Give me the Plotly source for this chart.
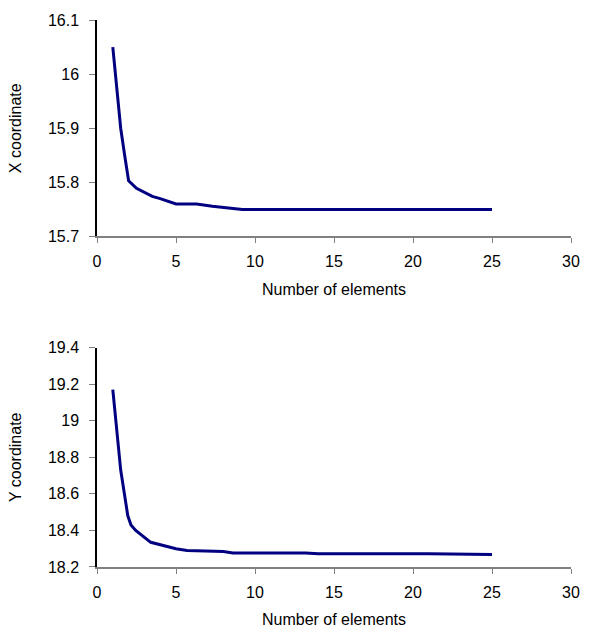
import plotly.graph_objects as go

# Data
x_top = [1, 1.5, 1.75, 2, 2.5, 3.5, 4, 5, 6.3, 7.3, 9.2, 10, 15, 20, 25]
y_top = [16.05, 15.90, 15.85, 15.803, 15.789, 15.774, 15.77, 15.76, 15.76,
         15.756, 15.75, 15.75, 15.75, 15.75, 15.75]

x_bot = [1, 1.3, 1.5, 1.95, 2.15, 2.45, 3.4, 5, 5.7, 8, 8.6, 13.2, 14, 21, 23, 25]
y_bot = [19.17, 18.91, 18.73, 18.48, 18.43, 18.40, 18.335, 18.30, 18.29,
         18.285, 18.277, 18.277, 18.272, 18.272, 18.268, 18.268]

x_ticks = [0, 5, 10, 15, 20, 25, 30]
y_top_ticks = [15.7, 15.8, 15.9, 16.0, 16.1]
y_top_labels = ["15.7", "15.8", "15.9", "16", "16.1"]
y_bot_ticks = [18.2, 18.4, 18.6, 18.8, 19.0, 19.2, 19.4]
y_bot_labels = ["18.2", "18.4", "18.6", "18.8", "19", "19.2", "19.4"]

x_title = "Number of elements"
y_top_title = "X coordinate"
y_bot_title = "Y coordinate"

LINE = "#000080"
FONT = dict(family="Liberation Sans, Arial, sans-serif", size=16, color="black")

fig = go.Figure()
fig.add_trace(go.Scatter(x=x_top, y=y_top, mode="lines", xaxis="x", yaxis="y",
                         line=dict(color=LINE, width=3), showlegend=False))
fig.add_trace(go.Scatter(x=x_bot, y=y_bot, mode="lines", xaxis="x2", yaxis="y2",
                         line=dict(color=LINE, width=3), showlegend=False))

W, H = 592, 638
ml, mr, mt, mb = 97, 15, 16, 66
ph = H - mt - mb
top_dom = [1 - 220 / ph, 1]
bot_dom = [0, 1 - 333 / ph]

xcommon = dict(range=[0, 30], tickvals=x_ticks, ticks="outside", ticklen=5,
               tickcolor="#808080", showline=True, linecolor="#808080", linewidth=1.5,
               showgrid=False, zeroline=False, tickfont=FONT, ticklabelstandoff=5,
               title=dict(text=x_title, font=FONT, standoff=14))
ycommon = dict(ticks="outside", ticklen=6, tickcolor="#808080", showline=True,
               linecolor="black", linewidth=1.5, showgrid=False, zeroline=False,
               tickfont=FONT, ticklabelstandoff=7)

fig.update_layout(
    width=W, height=H,
    margin=dict(l=ml, r=mr, t=mt, b=mb),
    paper_bgcolor="white", plot_bgcolor="white",
    font=FONT,
    xaxis=dict(domain=[0, 1], anchor="y", **xcommon),
    yaxis=dict(domain=top_dom, anchor="x", range=[15.7, 16.1],
               tickvals=y_top_ticks, ticktext=y_top_labels,
               title=dict(text=y_top_title, font=FONT, standoff=22), **ycommon),
    xaxis2=dict(domain=[0, 1], anchor="y2", **xcommon),
    yaxis2=dict(domain=bot_dom, anchor="x2", range=[18.2, 19.4],
                tickvals=y_bot_ticks, ticktext=y_bot_labels,
                title=dict(text=y_bot_title, font=FONT, standoff=22), **ycommon),
)

fig.write_html("out.html")
